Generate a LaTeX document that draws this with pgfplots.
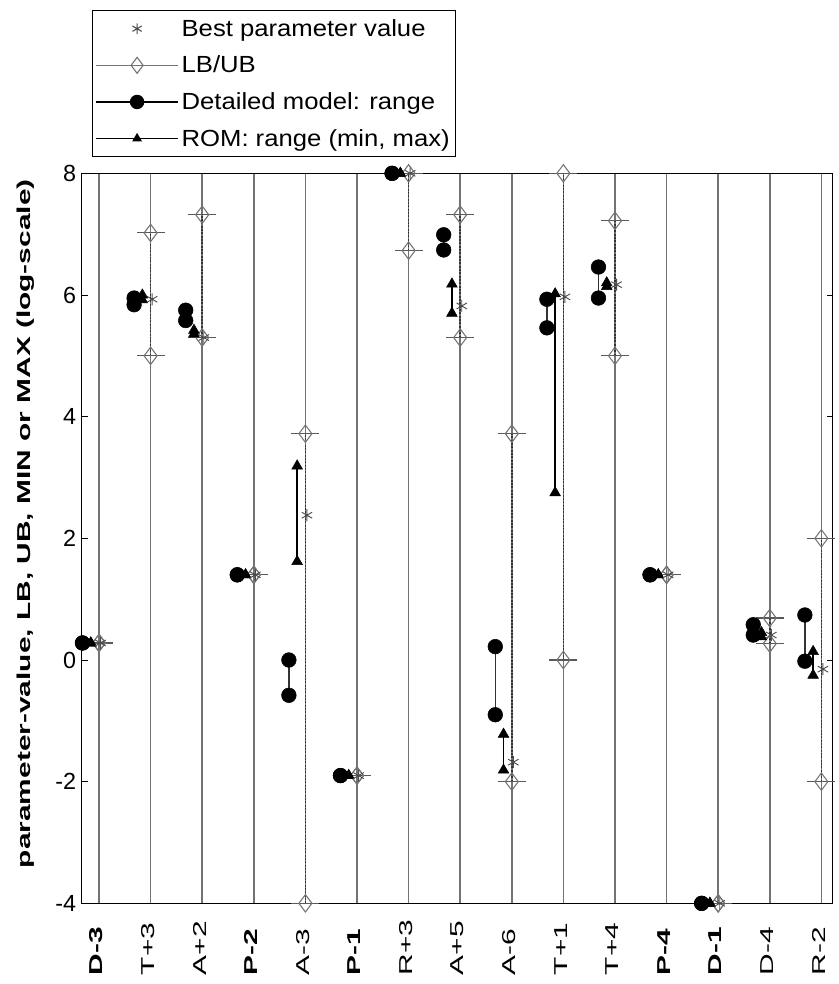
\documentclass[border=0pt]{standalone}
\usepackage{fontspec}
\setmainfont{Liberation Sans}
\newfontfamily\legfont{Liberation Sans}[FakeStretch=1.1]
\newfontfamily\rotfont{Liberation Sans}[FakeStretch=1.6]
\usepackage{pgfplots}
\pgfplotsset{compat=1.18}
\usepackage{pgfplotstable}

% one row per parameter: bounds, detailed-model range, ROM range, best value
\pgfplotstableread{
x  lb    ub    dmin   dmax  rmin   rmax   best
1  0.28  0.28  0.28   0.28  0.28   0.28   0.28
2  5.00  7.02  5.84   5.95  5.92   6.00   5.93
3  5.30  7.32  5.58   5.75  5.36   5.42   5.30
4  1.40  1.40  1.40   1.40  1.40   1.40   1.40
5  -4.00 3.72  -0.58  0.00  1.62   3.19   2.38
6  -1.90 -1.90 -1.90  -1.90 -1.90  -1.90  -1.90
7  6.73  8.00  8.00   8.00  8.00   8.00   8.00
8  5.30  7.32  6.74   6.99  5.70   6.18   5.82
9  -2.00 3.72  -0.90  0.22  -1.81  -1.22  -1.68
10 0.00  8.00  5.46   5.93  2.75   6.02   5.97
11 5.00  7.22  5.95   6.46  6.14   6.20   6.17
12 1.40  1.40  1.40   1.40  1.40   1.40   1.40
13 -4.00 -4.00 -4.00  -4.00 -4.00  -4.00  -4.00
14 0.27  0.69  0.41   0.58  0.38   0.45   0.41
15 -2.00 2.00  -0.02  0.74  -0.25  0.14   -0.15
}\pardata

\begin{document}
\begin{tikzpicture}
\begin{axis}[
    scale only axis, width=563.25pt, height=547.5pt,
    xmin=0.665, xmax=15.22, ymin=-4, ymax=8,
    clip=false,
    axis line style={black, line width=1.1pt},
    xtick={1,...,15},
    xticklabels={\textbf{D-3},T+3,A+2,\textbf{P-2},A-3,\textbf{P-1},R+3,A+5,A-6,T+1,T+4,\textbf{P-4},\textbf{D-1},D-4,R-2},
    xticklabel style={xshift=-2pt, yshift=-54pt, rotate=90, anchor=west, inner sep=0pt,
                      font=\rotfont\fontsize{14}{16}\selectfont},
    xtick style={draw=none},
    xmajorgrids, major grid style={black!55, line width=1.3pt},
    ytick={-4,-2,...,8}, yticklabels={-4,-2,0,2,4,6,8},
    yticklabel style={font=\fontsize{17.5}{20}\selectfont, inner sep=0pt, xshift=-4pt},
    ytick style={black, line width=0.7pt},
    tick align=inside, major tick length=4.5pt,
    ylabel={\textbf{parameter-value, LB, UB, MIN or MAX (log-scale)}},
    ylabel style={font=\rotfont\fontsize{14}{16}\selectfont, rotate=0,
                  at={(axis description cs:-0.0688,0.52)}, anchor=base},
    legend image code/.code={\draw[mark repeat=2, mark phase=2, #1]
        plot coordinates {(0pt,0pt) (31pt,0pt) (62pt,0pt)};},
    legend style={at={(axis description cs:0.0137,1.022)}, anchor=south west,
        draw=black, line width=0.8pt, inner xsep=2pt, inner ysep=4.5pt,
        font=\legfont\fontsize{17.5}{20}\selectfont,
        nodes={inner sep=2pt}, row sep=9.3pt},
    legend cell align=left,
]
\addlegendimage{only marks, mark=asterisk, black!70, mark size=4pt}
\addlegendentry{Best parameter value}
\addlegendimage{black!55, line width=0.8pt, mark=diamond, mark size=6pt}
\addlegendentry{LB/UB}
\addlegendimage{black, line width=0.8pt, mark=*, mark size=5pt}
\addlegendentry{Detailed model: range}
\addlegendimage{black, line width=0.8pt, mark=triangle*, mark size=3.5pt}
\addlegendentry{ROM: range (min, max)}

% LB -> UB span
\addplot[forget plot, draw=none, mark=none,
    error bars/.cd, y dir=plus, y explicit, error mark=none,
    error bar style={draw=black!80, line width=1.2pt, dash pattern=on 1.5pt off 1pt}]
    table[x=x, y=lb, y error expr=\thisrow{ub}-\thisrow{lb}] {\pardata};
% bound markers: diamond with a cross bar
\addplot[forget plot, only marks, mark=-, mark size=10.5pt, black!65, line width=0.8pt]
    table[x=x, y=lb] {\pardata};
\addplot[forget plot, only marks, mark=-, mark size=10.5pt, black!65, line width=0.8pt]
    table[x=x, y=ub] {\pardata};
\addplot[forget plot, only marks, mark=diamond, mark size=6.5pt, black!55, line width=0.8pt]
    table[x=x, y=lb] {\pardata};
\addplot[forget plot, only marks, mark=diamond, mark size=6.5pt, black!55, line width=0.8pt]
    table[x=x, y=ub] {\pardata};

% detailed model range
\addplot[forget plot, only marks, mark=*, mark size=5.5pt, black,
    error bars/.cd, y dir=plus, y explicit, error mark=none,
    error bar style={black!80, line width=1pt}]
    table[x expr=\thisrow{x}-0.32, y=dmin, y error expr=\thisrow{dmax}-\thisrow{dmin}] {\pardata};
\addplot[forget plot, only marks, mark=*, mark size=5.5pt, black]
    table[x expr=\thisrow{x}-0.32, y=dmax] {\pardata};

% ROM range
\addplot[forget plot, only marks, mark=triangle*, mark size=4.6pt, black,
    error bars/.cd, y dir=plus, y explicit, error mark=none,
    error bar style={black, line width=1pt}]
    table[x expr=\thisrow{x}-0.16, y=rmin, y error expr=\thisrow{rmax}-\thisrow{rmin}] {\pardata};
\addplot[forget plot, only marks, mark=triangle*, mark size=4.6pt, black]
    table[x expr=\thisrow{x}-0.16, y=rmax] {\pardata};

% best value
\addplot[forget plot, only marks, mark=asterisk, mark size=4.5pt, black!70, line width=0.7pt]
    table[x expr=\thisrow{x}+0.03, y=best] {\pardata};
\end{axis}
\pgfresetboundingbox
\path[use as bounding box] ([shift={(-61.3pt,-60.5pt)}]current axis.south west)
    rectangle ([shift={(4.5pt,130pt)}]current axis.north east);
\end{tikzpicture}
\end{document}
